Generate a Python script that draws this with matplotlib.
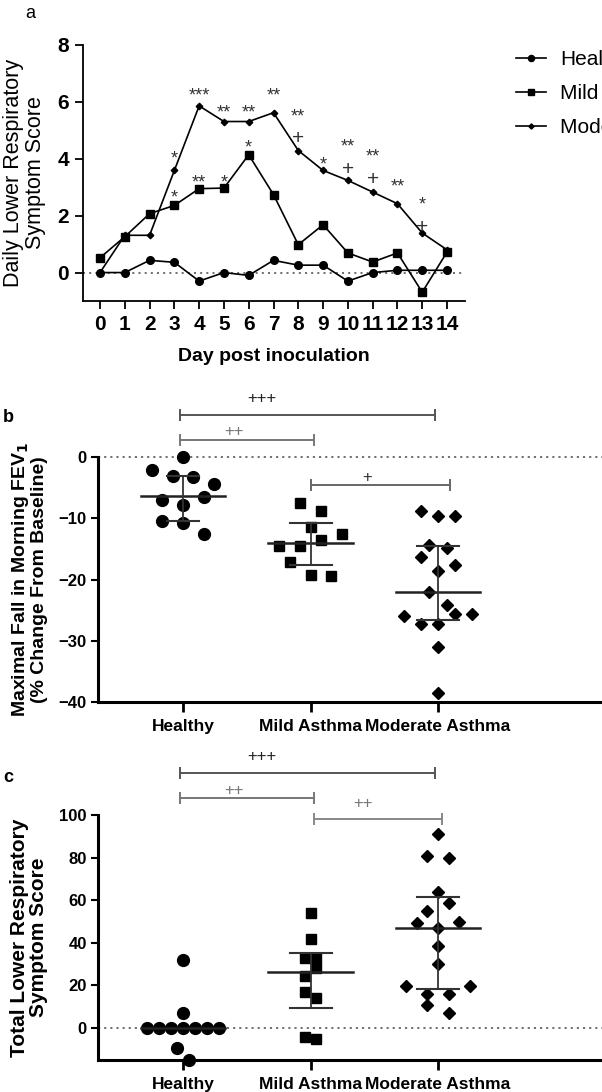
import matplotlib
matplotlib.use("Agg")
import matplotlib.pyplot as plt
import numpy as np

plt.rcParams['font.family'] = ['Liberation Sans', 'DejaVu Sans']

# ---------------- Panel a data ----------------
days = list(range(15))
healthy_daily = [0.0, 0.0, 0.43, 0.36, -0.3, 0.0, -0.1, 0.43, 0.26, 0.26, -0.3, 0.0, 0.08, 0.08, 0.08]
mild_daily = [0.52, 1.26, 2.07, 2.36, 2.95, 2.97, 4.14, 2.74, 0.98, 1.68, 0.69, 0.37, 0.69, -0.69, 0.72]
moderate_daily = [0.0, 1.31, 1.31, 3.59, 5.86, 5.31, 5.31, 5.62, 4.29, 3.59, 3.24, 2.83, 2.42, 1.39, 0.8]
group_names = ["Healthy", "Mild Asthma", "Moderate Asthma"]

# significance marks: (day, label, y)
sig_days = [3, 3, 4, 4, 5, 5, 6, 6, 7, 8, 8, 9, 10, 10, 11, 11, 12, 13, 13]
sig_labels = ["*", "*", "***", "**", "**", "*", "**", "*", "**", "**", "+", "*", "**", "+", "**", "+", "**", "*", "+"]
sig_y = [4.18, 2.8, 6.39, 3.33, 5.82, 3.33, 5.82, 4.56, 6.39, 5.65, 4.7, 3.96, 4.6, 3.61, 4.25, 3.26, 3.19, 2.56, 1.58]

# ---------------- Panel b data ----------------
fev_healthy = [0.0, -2.1, -3.1, -3.2, -4.4, -7.1, -7.8, -6.5, -10.5, -10.8, -12.5]
fev_mild = [-7.5, -8.8, -11.4, -12.5, -13.6, -14.5, -14.5, -17.2, -19.2, -19.4]
fev_moderate = [-8.8, -9.6, -9.7, -14.3, -14.8, -16.4, -17.6, -18.6, -22.1, -24.2,
                -26.0, -25.6, -25.6, -27.3, -27.3, -31.0, -38.6]
fev_center = [-6.4, -14.0, -22.1]
fev_upper = [-3.1, -10.7, -14.5]
fev_lower = [-10.4, -17.6, -26.6]

# ---------------- Panel c data ----------------
tot_healthy = [31.8, 6.8, 0, 0, 0, 0, 0, 0, 0, -9.4, -15.2]
tot_mild = [53.8, 41.7, 32.6, 32.6, 27.9, 24.5, 16.6, 13.8, -4.2, -5.5]
tot_moderate = [90.9, 80.7, 80.0, 64.0, 58.8, 54.9, 49.1, 49.8, 46.7, 38.6, 29.8,
                19.7, 19.7, 15.7, 15.7, 10.7, 6.8]
tot_center = [0.0, 26.3, 46.7]
tot_upper = [0.0, 35.3, 61.6]
tot_lower = [0.0, 9.4, 18.0]

# ---------------- layout (horizontal scatter offsets, category units) ----------------
fev_off = [
    [0, -3, -1, 1, 3, -2, 0, 2, -2, 0, 2],
    [-1, 1, 0, 3, 1, -3, -1, -2, 0, 2],
    [-2, 0, 2, -1, 1, -2, 2, 0, -1, 1, -4, 2, 4, -2, 0, 0, 0],
]
fev_step = [0.082, 0.082, 0.067]
tot_off = [
    [0, 0, -3, -2, -1, 0, 1, 2, 3, -0.5, 0.5],
    [0, 0, -1, 1, 1, -1, -1, 1, -1, 1],
    [0, -1, 1, 0, 1, -1, -2, 2, 0, 0, 0, -3, 3, -1, 1, -1, 1],
]
tot_step = [0.094, 0.04, 0.084]

W, H = 602, 1092
fig = plt.figure(figsize=(W / 100, H / 100), dpi=100)


def px_axes(left, top, right, bottom):
    return fig.add_axes([left / W, 1 - bottom / H, (right - left) / W, (bottom - top) / H])


# ================= Panel a =================
ax = px_axes(83, 45, 465, 301)
ax.plot(days, healthy_daily, color='black', lw=1.2, marker='o', ms=5.5, label=group_names[0], zorder=3)
ax.plot(days, mild_daily, color='black', lw=1.2, marker='s', ms=6, label=group_names[1], zorder=3)
ax.plot(days, moderate_daily, color='black', lw=1.2, marker='D', ms=3.3, label=group_names[2], zorder=3)
ax.axhline(0, color='#555555', lw=1.2, ls=(0, (1.2, 2.5)), zorder=1)
ax.set_xlim(-0.686, 14.726)
ax.set_ylim(-1, 8)
ax.set_xticks(days)
ax.set_yticks([0, 2, 4, 6, 8])
for s in ['top', 'right']:
    ax.spines[s].set_visible(False)
for s in ['left', 'bottom']:
    ax.spines[s].set_linewidth(1.3)
ax.tick_params(width=1.3, length=6, labelsize=15, pad=4)
for lab in ax.get_xticklabels() + ax.get_yticklabels():
    lab.set_fontweight('bold')
ax.set_xlabel("Day post inoculation", fontsize=14, fontweight='bold', labelpad=10)
ax.set_ylabel("Daily Lower Respiratory\nSymptom Score", fontsize=15.5, labelpad=8, linespacing=1.1)
for d, lab, yv in zip(sig_days, sig_labels, sig_y):
    dy = -4 if '*' in lab else 0
    fs = 13 if '*' in lab else 15
    ax.annotate(lab, (d, yv), xytext=(0, dy), textcoords='offset points', ha='center', va='center',
                fontsize=fs, color='#333333')
leg = ax.legend(loc='upper left', bbox_to_anchor=(516 / W, 1 - 50 / H), bbox_transform=fig.transFigure,
                frameon=False, fontsize=15, handlelength=1.45, handletextpad=0.65, labelspacing=0.72,
                borderaxespad=0, borderpad=0, markerscale=0.8)
fig.text(30 / W, 1 - 14 / H, "a", fontsize=13, ha='center', va='center')


def strip_panel(ax, groups, offs, steps, center, upper, lower, cap_w):
    markers = ['o', 's', 'D']
    sizes = [8.5, 7.5, 6.0]
    for i, vals in enumerate(groups):
        xs = [i + o * steps[i] for o in offs[i]]
        ax.plot(xs, vals, ls='none', marker=markers[i], ms=sizes[i], color='black', zorder=3, clip_on=False)
        ax.plot([i - 0.33, i + 0.33], [center[i], center[i]], color='#222222', lw=1.8, zorder=4)
        if upper[i] != lower[i]:
            ax.plot([i, i], [lower[i], upper[i]], color='#333333', lw=1.3, zorder=4)
            for yv in (upper[i], lower[i]):
                ax.plot([i - cap_w[i], i + cap_w[i]], [yv, yv], color='#333333', lw=1.5, zorder=4)
    ax.set_xticks(range(3))
    ax.set_xticklabels(group_names, fontsize=12.5, fontweight='bold')
    ax.set_xlim(-0.667, 3.286)
    for s in ['top', 'right']:
        ax.spines[s].set_visible(False)
    for s in ['left', 'bottom']:
        ax.spines[s].set_linewidth(2.2)
    ax.tick_params(axis='x', width=2, length=7, pad=5)
    ax.tick_params(axis='y', width=1.5, length=5, labelsize=12, pad=3)
    for lab in ax.get_yticklabels():
        lab.set_fontweight('bold')
    ax.axhline(0, color='#666666', lw=1.3, ls=(0, (1.2, 2.2)), zorder=1, clip_on=False)


def bracket(ax, x0, x1, y, text, tx, ty, color, tcolor, dy):
    ax.plot([x0, x1], [y, y], color=color, lw=1.4, clip_on=False)
    for xx in (x0, x1):
        ax.plot([xx, xx], [y - dy, y + dy], color=color, lw=1.4, clip_on=False)
    ax.text(tx, ty, text, ha='center', va='center', fontsize=12, color=tcolor, clip_on=False)


# ================= Panel b =================
axb = px_axes(98, 457, 602, 702)
strip_panel(axb, [fev_healthy, fev_mild, fev_moderate], fev_off, fev_step,
            fev_center, fev_upper, fev_lower, [0.125, 0.165, 0.165])
axb.set_ylim(-40, 0)
axb.set_yticks([0, -10, -20, -30, -40])
axb.set_ylabel("Maximal Fall in Morning FEV$_\\mathbf{1}$\n(% Change From Baseline)", fontsize=14,
               fontweight='bold', labelpad=8, linespacing=1.0)
bracket(axb, -0.02, 1.98, 6.86, "+++", 0.62, 9.5, '#555555', '#222222', 0.8)
bracket(axb, -0.02, 1.03, 2.78, "++", 0.40, 4.1, '#777777', '#777777', 0.8)
bracket(axb, 1.0, 2.09, -4.57, "+", 1.44, -3.27, '#666666', '#333333', 0.8)
fig.text(8 / W, 1 - 418 / H, "b", fontsize=13, fontweight='bold', ha='center', va='center')

# ================= Panel c =================
axc = px_axes(98, 815, 602, 1060)
strip_panel(axc, [tot_healthy, tot_mild, tot_moderate], tot_off, tot_step,
            tot_center, tot_upper, tot_lower, [0.16, 0.165, 0.165])
axc.set_ylim(-15.2, 100)
axc.set_yticks([0, 20, 40, 60, 80, 100])
axc.set_ylabel("Total Lower Respiratory\nSymptom Score", fontsize=15, fontweight='bold', labelpad=8,
               linespacing=1.05)
bracket(axc, -0.02, 1.98, 119.7, "+++", 0.62, 127.3, '#555555', '#222222', 2.2)
bracket(axc, -0.02, 1.03, 108.0, "++", 0.40, 111.7, '#777777', '#777777', 2.2)
bracket(axc, 1.03, 2.03, 98.2, "++", 1.41, 105.2, '#888888', '#777777', 2.2)
fig.text(8 / W, 1 - 778 / H, "c", fontsize=13, fontweight='bold', ha='center', va='center')

fig.savefig("out.png", dpi=100)
